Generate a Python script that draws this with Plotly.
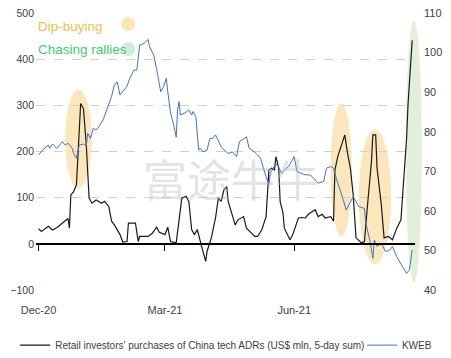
import plotly.graph_objects as go

# ---------------- data ----------------
retail_dates = [
    "2020-12-01", "2020-12-03", "2020-12-08", "2020-12-11", "2020-12-14", "2020-12-18", "2020-12-20", "2020-12-22", "2020-12-23", "2020-12-24",
    "2020-12-26", "2020-12-28", "2020-12-31", "2021-01-02", "2021-01-04", "2021-01-06", "2021-01-08", "2021-01-11", "2021-01-15", "2021-01-17",
    "2021-01-20", "2021-01-22", "2021-01-24", "2021-01-28", "2021-01-30", "2021-02-02", "2021-02-03", "2021-02-08", "2021-02-10", "2021-02-11",
    "2021-02-17", "2021-02-20", "2021-02-23", "2021-02-25", "2021-03-01", "2021-03-03", "2021-03-04", "2021-03-05", "2021-03-09", "2021-03-12",
    "2021-03-13", "2021-03-16", "2021-03-18", "2021-03-20", "2021-03-22", "2021-03-24", "2021-03-26", "2021-03-28", "2021-03-30", "2021-03-31",
    "2021-04-03", "2021-04-06", "2021-04-08", "2021-04-10", "2021-04-12", "2021-04-14", "2021-04-15", "2021-04-18", "2021-04-20", "2021-04-22",
    "2021-04-26", "2021-04-28", "2021-05-02", "2021-05-04", "2021-05-06", "2021-05-09", "2021-05-12", "2021-05-14", "2021-05-16", "2021-05-18",
    "2021-05-19", "2021-05-21", "2021-05-22", "2021-05-24", "2021-05-25", "2021-05-29", "2021-05-31", "2021-06-04", "2021-06-06", "2021-06-09",
    "2021-06-11", "2021-06-16", "2021-06-18", "2021-06-21", "2021-06-23", "2021-06-27", "2021-06-29", "2021-06-30", "2021-07-02", "2021-07-07",
    "2021-07-09", "2021-07-11", "2021-07-13", "2021-07-15", "2021-07-19", "2021-07-21", "2021-07-23", "2021-07-26", "2021-07-27", "2021-07-29",
    "2021-07-30", "2021-08-02", "2021-08-04", "2021-08-07", "2021-08-10", "2021-08-13", "2021-08-16", "2021-08-17", "2021-08-20", "2021-08-21",
    "2021-08-24",
]
retail_values = [
    33, 27, 38, 30, 35, 45, 52, 55, 34, 106,
    113, 128, 304, 293, 214, 99, 88, 95, 88, 92,
    81, 49, 41, 20, 4, 5, 45, 45, 5, 16,
    16, 23, 36, 25, 20, 36, 20, 5, 2, 81,
    99, 103, 92, 31, 20, 31, 5, -16, -38, -16,
    13, 56, 99, 92, 117, 124, 92, 63, 41, 52,
    59, 34, 23, 16, 16, 31, 59, 160, 164, 160,
    189, 164, 92, 67, 34, 9, 20, 56, 57, 56,
    64, 74, 59, 64, 56, 59, 49, 160, 189, 236,
    196, 164, 106, 13, 2, 5, 77, 178, 236, 236,
    164, 85, 13, 16, 9, 34, 52, 92, 228, 300,
    441,
]

kweb_dates = [
    "2020-12-01", "2020-12-03", "2020-12-05", "2020-12-08", "2020-12-09", "2020-12-11", "2020-12-14", "2020-12-18", "2020-12-20", "2020-12-22",
    "2020-12-25", "2020-12-26", "2020-12-28", "2020-12-30", "2021-01-02", "2021-01-04", "2021-01-05", "2021-01-07", "2021-01-09", "2021-01-11",
    "2021-01-13", "2021-01-16", "2021-01-20", "2021-01-22", "2021-01-24", "2021-01-26", "2021-01-28", "2021-01-30", "2021-02-02", "2021-02-04",
    "2021-02-07", "2021-02-09", "2021-02-11", "2021-02-14", "2021-02-17", "2021-02-18", "2021-02-21", "2021-02-23", "2021-02-26", "2021-02-28",
    "2021-03-02", "2021-03-03", "2021-03-05", "2021-03-07", "2021-03-09", "2021-03-10", "2021-03-11", "2021-03-12", "2021-03-15", "2021-03-18",
    "2021-03-20", "2021-03-21", "2021-03-23", "2021-03-25", "2021-03-26", "2021-03-28", "2021-03-31", "2021-04-02", "2021-04-04", "2021-04-06",
    "2021-04-08", "2021-04-10", "2021-04-12", "2021-04-15", "2021-04-18", "2021-04-20", "2021-04-21", "2021-04-23", "2021-04-26", "2021-04-28",
    "2021-04-30", "2021-05-03", "2021-05-05", "2021-05-08", "2021-05-10", "2021-05-12", "2021-05-14", "2021-05-15", "2021-05-17", "2021-05-19",
    "2021-05-21", "2021-05-23", "2021-05-25", "2021-05-28", "2021-05-30", "2021-06-01", "2021-06-03", "2021-06-06", "2021-06-09", "2021-06-12",
    "2021-06-14", "2021-06-17", "2021-06-18", "2021-06-22", "2021-06-24", "2021-06-27", "2021-06-29", "2021-07-01", "2021-07-03", "2021-07-06",
    "2021-07-08", "2021-07-10", "2021-07-13", "2021-07-15", "2021-07-17", "2021-07-21", "2021-07-22", "2021-07-25", "2021-07-27", "2021-07-28",
    "2021-07-30", "2021-08-02", "2021-08-05", "2021-08-08", "2021-08-10", "2021-08-13", "2021-08-15", "2021-08-17", "2021-08-20", "2021-08-22",
    "2021-08-24",
]
kweb_values = [
    74.1, 74.9, 75.8, 76.6, 75.8, 76.9, 75.8, 77.5, 76.6, 77.1,
    75.8, 74.5, 73.3, 76.6, 76.9, 76.4, 79.6, 78.3, 80.9, 80.4,
    81.3, 83.0, 87.2, 88.9, 91.8, 92.6, 89.3, 90.1, 91.5, 93.5,
    95.6, 95.6, 101.9, 102.3, 103.3, 101.5, 99.4, 96.0, 90.1, 91.4,
    93.5, 90.1, 84.7, 82.1, 78.6, 85.5, 87.6, 84.2, 84.7, 85.5,
    84.2, 85.1, 83.8, 75.4, 75.8, 74.9, 75.4, 78.3, 78.3, 79.2,
    77.5, 76.2, 75.4, 74.5, 74.9, 74.1, 73.7, 77.5, 78.3, 78.7,
    75.8, 74.9, 74.5, 73.3, 70.8, 68.6, 66.5, 69.5, 70.8, 72.0,
    71.0, 69.5, 70.3, 71.2, 72.4, 73.7, 69.9, 69.5, 69.1, 69.1,
    68.6, 67.4, 67.0, 67.4, 70.8, 71.2, 70.8, 68.2, 66.1, 62.7,
    60.2, 61.5, 63.6, 62.3, 61.1, 60.6, 56.9, 52.2, 48.0, 52.6,
    51.0, 51.8, 49.7, 50.1, 51.0, 48.4, 47.2, 45.9, 44.2, 45.1,
    50.1,
]

tick_dates = ["2020-12-01", "2021-03-01", "2021-06-01"]
tick_labels = ["Dec-20", "Mar-21", "Jun-21"]

retail_name = "Retail investors' purchases of China tech ADRs (US$ mln, 5-day sum)"
kweb_name = "KWEB"

# ---------------- styling ----------------
FONT = "Liberation Sans, Arial, sans-serif"
TXT = "#404040"
ORANGE_FILL = "#FCE7BD"
GREEN_FILL = "#E2F0D9"
x_range = ["2020-11-29 05:00", "2021-08-26"]

fig = go.Figure()

fig.add_trace(go.Scatter(
    x=retail_dates, y=retail_values, name=retail_name, mode="lines",
    line=dict(color="#1a1a1a", width=1.2), xaxis="x", yaxis="y", legend="legend",
))
fig.add_trace(go.Scatter(
    x=kweb_dates, y=kweb_values, name=kweb_name, mode="lines",
    line=dict(color="#4472C4", width=1), xaxis="x", yaxis="y2", legend="legend2",
))
# empty helper trace so the zero-level tick axis is drawn
fig.add_trace(go.Scatter(
    x=[tick_dates[0]], y=[None], mode="lines", showlegend=False, hoverinfo="skip",
    xaxis="x2", yaxis="y",
))

shapes = [
    dict(type="circle", xref="x", yref="y", x0="2020-12-20", x1="2021-01-08", y0=120, y1=334,
         fillcolor=ORANGE_FILL, line=dict(width=0), layer="below"),
    dict(type="circle", xref="x", yref="y", x0="2021-06-27", x1="2021-07-12", y0=16, y1=304,
         fillcolor=ORANGE_FILL, line=dict(width=0), layer="below"),
    dict(type="circle", xref="x", yref="y", x0="2021-07-17", x1="2021-08-09", y0=-44, y1=248,
         fillcolor=ORANGE_FILL, line=dict(width=0), layer="below"),
    dict(type="circle", xref="paper", yref="paper", x0=0.976, x1=1.018, y0=0.025, y1=0.975,
         fillcolor=GREEN_FILL, line=dict(width=0), layer="below"),
    dict(type="circle", xref="paper", yref="paper", x0=0.225, x1=0.262, y0=0.935, y1=0.985,
         fillcolor="#FCE4B4", line=dict(width=0)),
    dict(type="circle", xref="paper", yref="paper", x0=0.225, x1=0.262, y0=0.845, y1=0.895,
         fillcolor="#CDEED8", line=dict(width=0)),
]

annotations = [
    dict(text="Dip-buying", xref="paper", yref="paper", x=0.0, y=0.952, xanchor="left", yanchor="middle",
         showarrow=False, font=dict(family=FONT, size=13.5, color="#F0BF4C")),
    dict(text="Chasing rallies", xref="paper", yref="paper", x=0.0, y=0.868, xanchor="left", yanchor="middle",
         showarrow=False, font=dict(family=FONT, size=13.5, color="#45C77A")),
    dict(text="富途牛牛", xref="paper", yref="paper", x=0.515, y=0.404, xanchor="center", yanchor="middle",
         showarrow=False, font=dict(family="Noto Sans CJK SC", size=44, color="rgba(185,185,185,0.40)")),
]

legend_style = dict(orientation="h", yanchor="middle", xanchor="left", y=-0.199,
                    font=dict(family=FONT, size=10, color=TXT), itemwidth=30,
                    bgcolor="rgba(0,0,0,0)")

# the page body adds an 8px offset, so the figure is 8px smaller and margins shifted
fig.update_layout(
    width=443, height=350,
    margin=dict(l=28, r=36, t=5, b=68, autoexpand=False),
    paper_bgcolor="white", plot_bgcolor="white",
    font=dict(family=FONT, size=11, color=TXT),
    showlegend=True,
    legend=dict(legend_style, x=-0.055),
    legend2=dict(legend_style, x=0.860),
    xaxis=dict(type="date", range=x_range, tickvals=tick_dates, ticktext=tick_labels,
               showgrid=False, showline=False, zeroline=False, ticks="", automargin=False,
               ticklabelstandoff=12, ticklabeloverflow="allow",
               tickfont=dict(family=FONT, size=11, color=TXT)),
    xaxis2=dict(type="date", range=x_range, overlaying="x", anchor="free", position=1/6,
                tickvals=tick_dates, showticklabels=False, showgrid=False, zeroline=False,
                showline=True, linecolor="#000000", linewidth=1.5, automargin=False,
                ticks="outside", ticklen=6, tickcolor="#000000", tickwidth=1),
    yaxis=dict(range=[-100, 500], dtick=100, showgrid=True, gridcolor="#D0D0D0", griddash="dash",
               gridwidth=1, zeroline=False, showline=False, ticks="", ticklabelstandoff=1,
               ticklabeloverflow="allow", automargin=False,
               tickfont=dict(family=FONT, size=10.5, color=TXT)),
    yaxis2=dict(range=[40, 110], dtick=10, overlaying="y", side="right", showgrid=False,
                zeroline=False, showline=False, ticks="", ticklabelstandoff=8,
                ticklabeloverflow="allow", automargin=False,
                tickfont=dict(family=FONT, size=11, color=TXT)),
    shapes=shapes,
    annotations=annotations,
)

fig.write_html("out.html")
